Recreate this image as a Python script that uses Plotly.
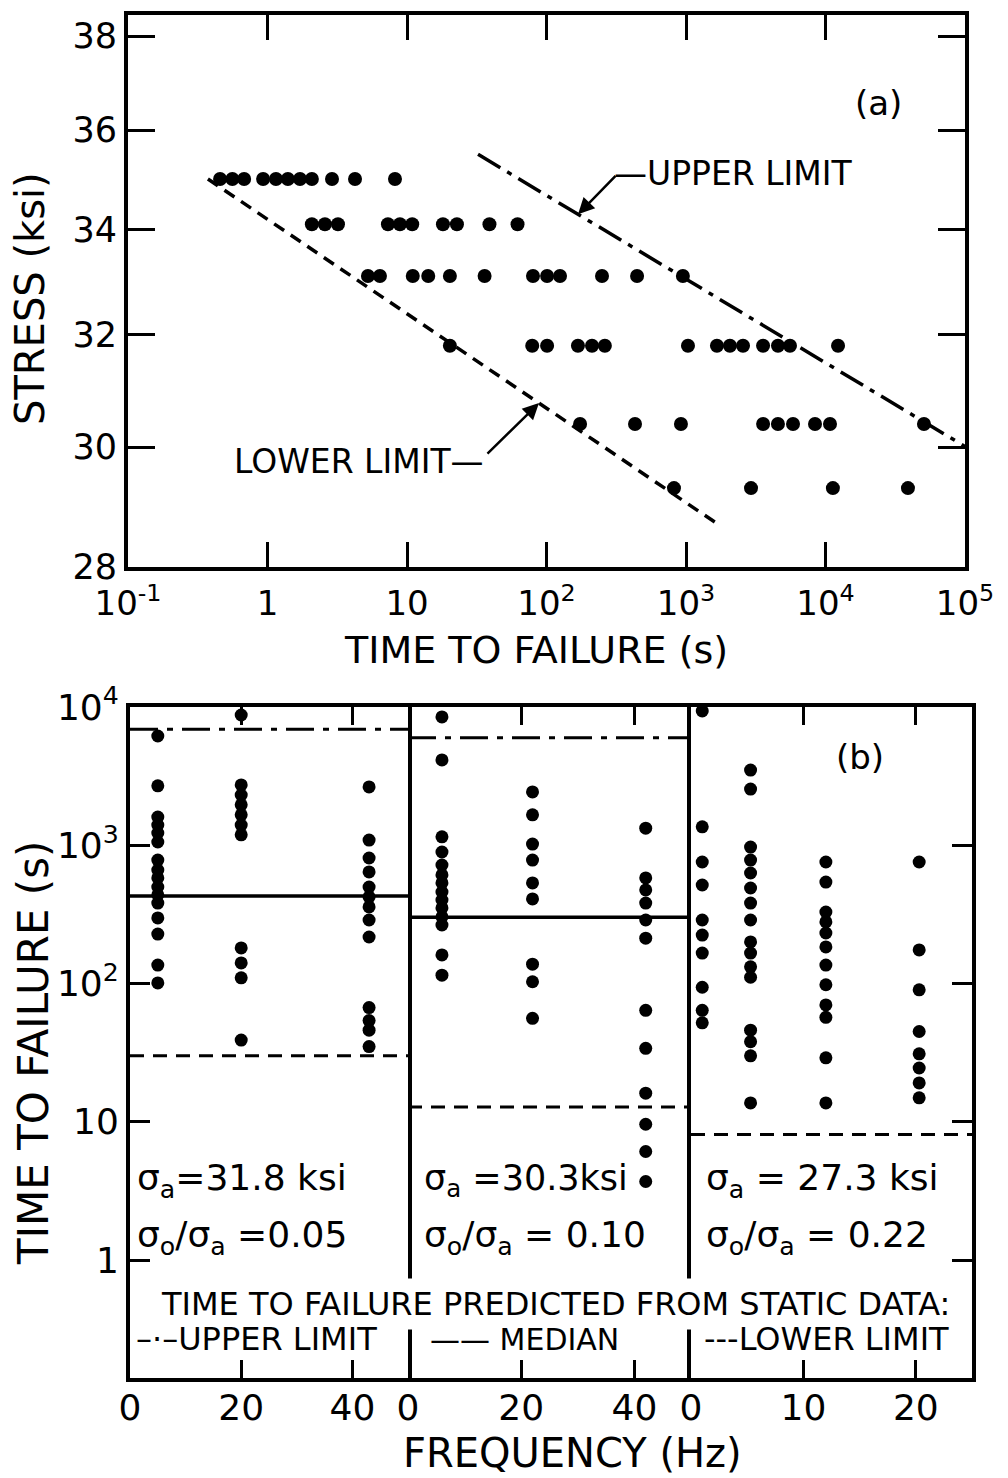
import numpy as np
import plotly.graph_objects as go

W, H = 1008, 1478
OFF = 8  # page body margin
FONT = "DejaVu Sans, Liberation Sans, Arial, sans-serif"

# ---------------- Panel (a): stress vs time to failure ----------------
a_stress_levels = [35.0, 34.1, 33.1, 31.8, 30.4, 29.3]
a_times_350 = [0.457, 0.56, 0.68, 0.93, 1.15, 1.40, 1.71, 2.08, 2.90, 4.24, 8.2]
a_times_341 = [2.08, 2.58, 3.2, 7.3, 8.9, 10.9, 18.1, 22.8, 39, 62]
a_times_331 = [5.25, 6.4, 11.0, 14.2, 20.3, 36, 80, 101, 125, 250, 446, 950]
a_times_318 = [20.3, 79, 101, 168, 212, 262, 1033, 1667, 2066, 2563, 3568, 4565, 5564, 12300]
a_times_304 = [174, 431, 920, 3570, 4560, 5850, 8410, 10770, 50800]
a_times_293 = [820, 2925, 11300, 39000]
a_rows = [a_times_350, a_times_341, a_times_331, a_times_318, a_times_304, a_times_293]

a_lower_t = [0.374, 1615]
a_lower_s = [35.0, 28.73]
a_upper_t = [32.3, 1.0e5]
a_upper_s = [35.5, 30.01]

a_xtickvals = [0.1, 1, 10, 100, 1000, 10000, 100000]
a_xticktext = ["10<sup>-1</sup>", "1", "10", "10<sup>2</sup>", "10<sup>3</sup>", "10<sup>4</sup>", "10<sup>5</sup>"]
a_ytickvals = [28, 30, 32, 34, 36, 38]

# ---------------- Panel (b): time to failure vs frequency ----------------
b1_freqs = [5, 20, 43]
b1_times = [
    [6170, 2690, 1600, 1400, 1227, 1056, 782, 662, 580, 499, 437, 382, 298, 228, 136, 101],
    [8750, 2730, 2310, 1960, 1660, 1400, 1190, 181, 141, 110, 39],
    [2640, 1090, 809, 641, 499, 423, 358, 288, 217, 67, 54, 46, 35],
]
b1_upper, b1_median, b1_lower = 6900, 430, 30

b2_freqs = [6, 22, 42]
b2_times = [
    [8470, 4140, 1150, 894, 720, 610, 534, 459, 402, 352, 303, 265, 161, 115],
    [2430, 1660, 1020, 782, 534, 409, 138, 103, 56],
    [1330, 580, 475, 382, 288, 213, 64, 34, 16.1, 9.6, 6.1, 3.7],
]
b2_upper, b2_median, b2_lower = 6000, 302, 12.8

b3_freqs = [1.0, 5.3, 12, 20.3]
b3_times = [
    [9360, 1360, 757, 516, 288, 224, 166, 94, 64, 52],
    [3500, 2550, 970, 782, 630, 491, 382, 288, 200, 166, 132, 111, 46, 38, 30, 13.7],
    [757, 542, 329, 279, 232, 184, 136, 98, 70, 57, 29, 13.7],
    [757, 175, 90, 45, 31, 24.5, 19.1, 14.9],
]
b3_lower = 8.1

b_xranges = [[0, 50], [0, 50], [0, 25]]
b_xtickvals = [[0, 20, 40], [0, 20, 40], [0, 10, 20]]
b_ytickvals = [1, 10, 100, 1000, 10000]
b_yticktext = ["1", "10", "10<sup>2</sup>", "10<sup>3</sup>", "10<sup>4</sup>"]


def px(x):
    return (x - OFF) / W


def py(y):
    return 1 - (y - OFF) / H


fig = go.Figure()

# ---- panel (a) traces
for s, times in zip(a_stress_levels, a_rows):
    fig.add_trace(go.Scatter(x=times, y=[s] * len(times), mode="markers",
                             marker=dict(color="black", size=14),
                             xaxis="x", yaxis="y", showlegend=False))
fig.add_trace(go.Scatter(x=a_lower_t, y=a_lower_s, mode="lines",
                         line=dict(color="black", width=3.5, dash="12px,8px"),
                         xaxis="x", yaxis="y", showlegend=False))
fig.add_trace(go.Scatter(x=a_upper_t, y=a_upper_s, mode="lines",
                         line=dict(color="black", width=3.5, dash="26px,8px,5px,8px"),
                         xaxis="x", yaxis="y", showlegend=False))

# ---- panel (b) traces
panels = [
    ("x2", "y2", b1_freqs, b1_times, b1_upper, b1_median, b1_lower, b_xranges[0]),
    ("x3", "y3", b2_freqs, b2_times, b2_upper, b2_median, b2_lower, b_xranges[1]),
    ("x4", "y4", b3_freqs, b3_times, None, None, b3_lower, b_xranges[2]),
]
for xa, ya, freqs, times, up, med, lo, xr in panels:
    for f, ts in zip(freqs, times):
        fig.add_trace(go.Scatter(x=[f] * len(ts), y=ts, mode="markers",
                                 marker=dict(color="black", size=13),
                                 xaxis=xa, yaxis=ya, showlegend=False))
    if up is not None:
        fig.add_trace(go.Scatter(x=xr, y=[up, up], mode="lines",
                                 line=dict(color="black", width=3, dash="28px,9px,6px,9px"),
                                 xaxis=xa, yaxis=ya, showlegend=False))
    if med is not None:
        fig.add_trace(go.Scatter(x=xr, y=[med, med], mode="lines",
                                 line=dict(color="black", width=3.5),
                                 xaxis=xa, yaxis=ya, showlegend=False))
    fig.add_trace(go.Scatter(x=xr, y=[lo, lo], mode="lines",
                             line=dict(color="black", width=3, dash="14px,9px"),
                             xaxis=xa, yaxis=ya, showlegend=False))

axis_common = dict(showline=True, linecolor="black", linewidth=4, showgrid=False,
                   zeroline=False, ticks="inside", tickcolor="black", tickwidth=3,
                   automargin=False,
                   tickfont=dict(family=FONT, size=36, color="black"))

# panel (a) domains
ax_dom = [px(128), px(965)]
ay_dom = [py(567), py(15)]
# panel (b) domains
b_top, b_bot = 707, 1378
by_dom = [py(b_bot), py(b_top)]
bx_edges = [130, 408, 691, 972]

layout = dict(
    width=W, height=H, margin=dict(l=0, r=0, t=0, b=0, autoexpand=False),
    template="none",
    paper_bgcolor="white", plot_bgcolor="white",
    font=dict(family=FONT, color="black"),
    xaxis=dict(axis_common, domain=ax_dom, anchor="y", type="log", range=[-1, 5],
               tickvals=a_xtickvals, ticktext=a_xticktext, ticklen=25, mirror="ticks",
               ticklabelstandoff=3, tickfont=dict(family=FONT, size=34, color="black")),
    yaxis=dict(axis_common, domain=ay_dom, anchor="x", type="log",
               range=[np.log10(28), 1.58503], tickvals=a_ytickvals, ticklen=27,
               mirror="ticks", ticklabelstandoff=0,
               tickfont=dict(family=FONT, size=35, color="black")),
)
for i, (xr, tv) in enumerate(zip(b_xranges, b_xtickvals)):
    n = i + 2
    layout[f"xaxis{n}"] = dict(axis_common, domain=[px(bx_edges[i]), px(bx_edges[i + 1])],
                               anchor=f"y{n}", range=xr, tickvals=tv, ticklen=18,
                               mirror="ticks", ticklabelstandoff=-5)
layout["yaxis2"] = dict(axis_common, domain=by_dom, anchor="x2", type="log",
                        range=[-0.853, 4], tickvals=b_ytickvals, ticktext=b_yticktext,
                        ticklen=20, mirror=True, side="left", ticklabelstandoff=0)
layout["yaxis3"] = dict(axis_common, domain=by_dom, anchor="x3", type="log",
                        range=[-0.853, 4], tickvals=b_ytickvals, ticks="",
                        showticklabels=False, showline=False)
layout["yaxis4"] = dict(axis_common, domain=by_dom, anchor="x4", type="log",
                        range=[-0.853, 4], tickvals=b_ytickvals, ticklen=20,
                        showticklabels=False, mirror=True, side="right")
fig.update_layout(**layout)


def interp_loglog(tq, ts, ss):
    lt = np.log10(ts)
    ls = np.log10(ss)
    return 10 ** np.interp(np.log10(tq), lt, ls)


up_tip_t = 10 ** 2.226
up_tip_s = interp_loglog(up_tip_t, a_upper_t, a_upper_s)
lo_tip_t = 10 ** 1.946
lo_tip_s = interp_loglog(lo_tip_t, a_lower_t, a_lower_s)

ann = []


def txt(x, y, text, size=32, xanchor="center", angle=0, bg=None):
    d = dict(x=px(x), y=py(y), xref="paper", yref="paper", text=text, showarrow=False,
             xanchor=xanchor, yanchor="middle", textangle=angle,
             font=dict(family=FONT, size=size, color="black"))
    if bg:
        d["bgcolor"] = bg
        d["borderpad"] = 6
    ann.append(d)


# panel (a) texts
txt(878, 103, "(a)", 34)
txt(855, 173, "—UPPER LIMIT", 33, xanchor="right")
txt(232, 461, "LOWER LIMIT—", 33, xanchor="left")
ann.append(dict(x=np.log10(up_tip_t), y=np.log10(up_tip_s), xref="x", yref="y", text="",
                showarrow=True, arrowhead=2, arrowsize=1.3, arrowwidth=2.5,
                arrowcolor="black", ax=39, ay=-40))
ann.append(dict(x=np.log10(lo_tip_t), y=np.log10(lo_tip_s), xref="x", yref="y", text="",
                showarrow=True, arrowhead=2, arrowsize=1.3, arrowwidth=2.5,
                arrowcolor="black", ax=-53, ay=52))
txt(30, 299, "STRESS (ksi)", 40, angle=-90)
txt(536, 650, "TIME TO FAILURE (s)", 38)

# panel (b) texts
txt(860, 757, "(b)", 34)
txt(33, 1053, "TIME TO FAILURE (s)", 42, angle=-90)
txt(572, 1453, "FREQUENCY (Hz)", 40)
txt(135, 1180, "σ<sub>a</sub>=31.8 ksi", 36, xanchor="left")
txt(135, 1237, "σ<sub>o</sub>/σ<sub>a</sub> =0.05", 36, xanchor="left")
txt(422, 1180, "σ<sub>a</sub> =30.3ksi", 35, xanchor="left")
txt(422, 1237, "σ<sub>o</sub>/σ<sub>a</sub> = 0.10", 36, xanchor="left")
txt(704, 1180, "σ<sub>a</sub> = 27.3 ksi", 36, xanchor="left")
txt(704, 1237, "σ<sub>o</sub>/σ<sub>a</sub> = 0.22", 36, xanchor="left")
txt(555, 1304, "TIME TO FAILURE PREDICTED FROM STATIC DATA:", 32, bg="white")
txt(134, 1339, "–·–UPPER LIMIT", 32, xanchor="left")
txt(428, 1339, "—— MEDIAN", 30, xanchor="left")
txt(702, 1339, "---LOWER LIMIT", 32, xanchor="left")

fig.update_layout(annotations=ann)
fig.write_html("out.html")
